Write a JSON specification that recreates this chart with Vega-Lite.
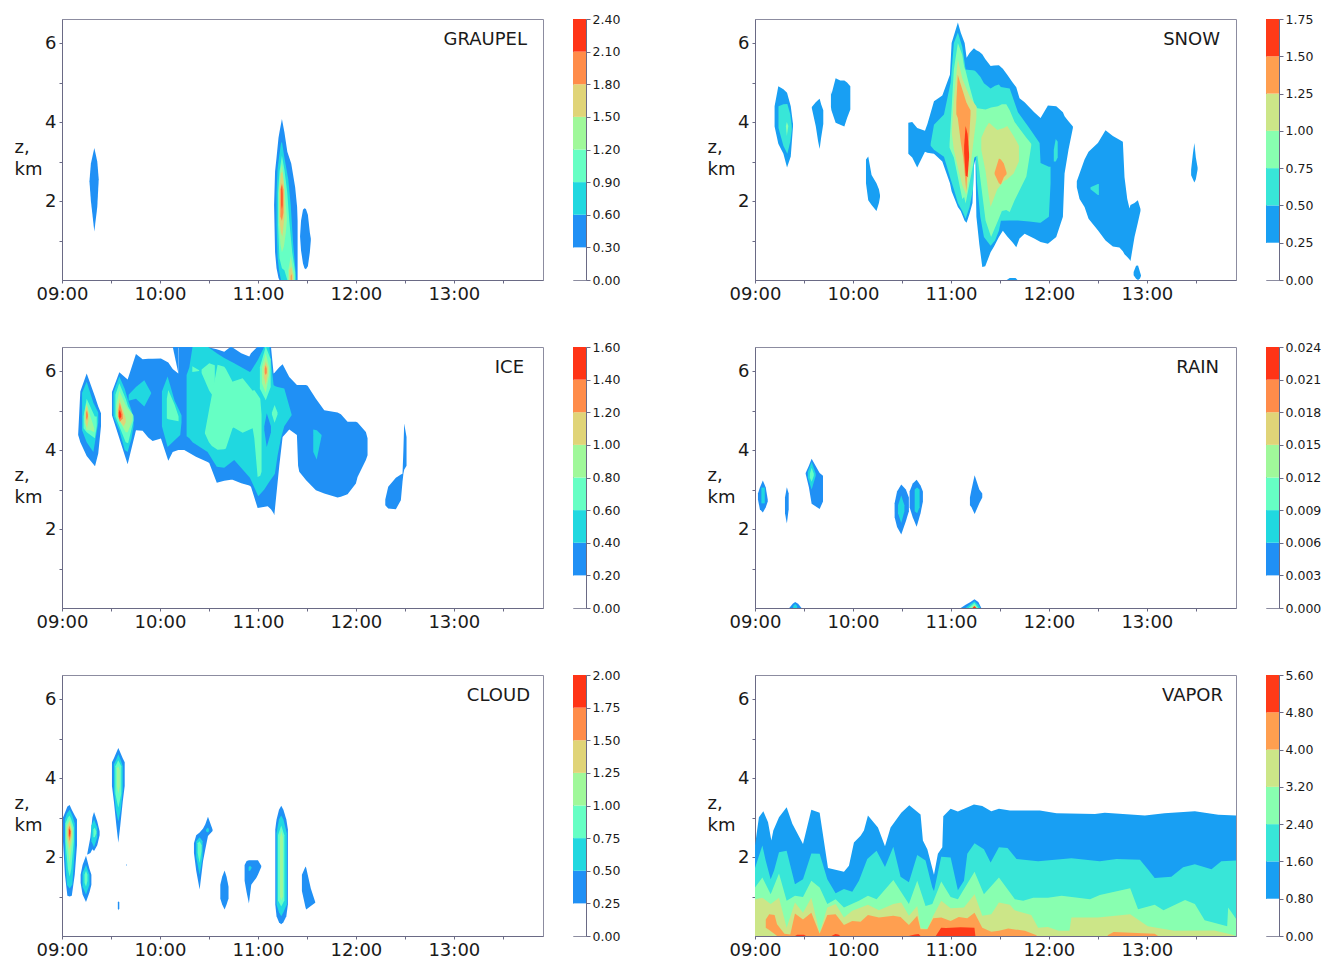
{"$schema":"https://vega.github.io/schema/vega-lite/v6.json","background":"white","padding":{"left":13,"top":12,"right":0,"bottom":0},"autosize":{"type":"pad"},"config":{"view":{"stroke":"#8c8ca0","strokeWidth":1},"font":"DejaVu Sans","axis":{"grid":false,"domainColor":"#6a6a85","tickColor":"#6a6a85","labelColor":"#1a1a1a","titleColor":"#1a1a1a","labelFont":"DejaVu Sans","titleFont":"DejaVu Sans"}},"spacing":{"row":67,"column":30},"bounds":"flush","columns":5,"resolve":{"scale":{"color":"independent"}},"concat":[
{"width":481,"height":261,"title":{"text":"GRAUPEL","anchor":"end","dx":-16,"offset":-30,"fontSize":18,"fontWeight":"normal","color":"#1a1a1a"},"data":{"values":[
{"b":1,"g":"a","h":9.28,"lo":2.5,"hi":2.5},{"b":1,"g":"a","h":9.295,"lo":2.0,"hi":2.95},{"b":1,"g":"a","h":9.33,"lo":1.23,"hi":3.34},{"b":1,"g":"a","h":9.36,"lo":1.85,"hi":3.0},{"b":1,"g":"a","h":9.375,"lo":2.55,"hi":2.55},
{"b":1,"g":"c","h":11.43,"lo":1.1,"hi":1.1},{"b":1,"g":"c","h":11.44,"lo":0.75,"hi":1.5},{"b":1,"g":"c","h":11.46,"lo":0.42,"hi":1.78},{"b":1,"g":"c","h":11.475,"lo":0.3,"hi":1.82},{"b":1,"g":"c","h":11.49,"lo":0.27,"hi":1.8},{"b":1,"g":"c","h":11.51,"lo":0.35,"hi":1.65},{"b":1,"g":"c","h":11.53,"lo":0.7,"hi":1.2},{"b":1,"g":"c","h":11.54,"lo":1.0,"hi":1.05},
{"b":1,"g":"m","h":11.165,"lo":1.9,"hi":1.9},{"b":1,"g":"m","h":11.175,"lo":0.7,"hi":2.75},{"b":1,"g":"m","h":11.19,"lo":0.3,"hi":3.1},{"b":1,"g":"m","h":11.21,"lo":0.05,"hi":3.6},{"b":1,"g":"m","h":11.22,"lo":0,"hi":3.75},{"b":1,"g":"m","h":11.245,"lo":0,"hi":4.08},{"b":1,"g":"m","h":11.27,"lo":0,"hi":3.75},{"b":1,"g":"m","h":11.3,"lo":0,"hi":3.25},{"b":1,"g":"m","h":11.34,"lo":0,"hi":2.95},{"b":1,"g":"m","h":11.38,"lo":0,"hi":2.35},{"b":1,"g":"m","h":11.4,"lo":0,"hi":1.85},{"b":1,"g":"m","h":11.405,"lo":0,"hi":1.5},
{"b":2,"g":"m","h":11.19,"lo":1.4,"hi":2.2},{"b":2,"g":"m","h":11.2,"lo":0.6,"hi":2.8},{"b":2,"g":"m","h":11.215,"lo":0.25,"hi":3.1},{"b":2,"g":"m","h":11.235,"lo":0,"hi":3.45},{"b":2,"g":"m","h":11.245,"lo":0,"hi":3.5},{"b":2,"g":"m","h":11.27,"lo":0,"hi":3.1},{"b":2,"g":"m","h":11.31,"lo":0,"hi":2.55},{"b":2,"g":"m","h":11.335,"lo":0,"hi":1.9},{"b":2,"g":"m","h":11.36,"lo":0,"hi":0.9},{"b":2,"g":"m","h":11.385,"lo":0,"hi":0.2},{"b":2,"g":"m","h":11.39,"lo":0,"hi":0.05},
{"b":3,"g":"m","h":11.205,"lo":1.4,"hi":2.2},{"b":3,"g":"m","h":11.22,"lo":0.55,"hi":2.75},{"b":3,"g":"m","h":11.245,"lo":0.3,"hi":3.15},{"b":3,"g":"m","h":11.27,"lo":0.25,"hi":2.8},{"b":3,"g":"m","h":11.3,"lo":0,"hi":2.2},{"b":3,"g":"m","h":11.32,"lo":0,"hi":1.5},{"b":3,"g":"m","h":11.35,"lo":0,"hi":0.7},{"b":3,"g":"m","h":11.38,"lo":0,"hi":0.2},
{"b":4,"g":"m","h":11.215,"lo":1.4,"hi":2.3},{"b":4,"g":"m","h":11.23,"lo":0.9,"hi":2.8},{"b":4,"g":"m","h":11.245,"lo":0.7,"hi":2.95},{"b":4,"g":"m","h":11.265,"lo":0.85,"hi":2.5},{"b":4,"g":"m","h":11.285,"lo":1.2,"hi":1.9},{"b":4,"g":"m","h":11.295,"lo":1.5,"hi":1.6},
{"b":4,"g":"n","h":11.31,"lo":0,"hi":0.25},{"b":4,"g":"n","h":11.335,"lo":0,"hi":0.6},{"b":4,"g":"n","h":11.37,"lo":0,"hi":0.1},
{"b":5,"g":"m","h":11.22,"lo":1.5,"hi":2.3},{"b":5,"g":"m","h":11.235,"lo":1.2,"hi":2.7},{"b":5,"g":"m","h":11.25,"lo":1.1,"hi":2.75},{"b":5,"g":"m","h":11.27,"lo":1.6,"hi":2.3},
{"b":5,"g":"n","h":11.32,"lo":0,"hi":0.25},{"b":5,"g":"n","h":11.34,"lo":0,"hi":0.35},{"b":5,"g":"n","h":11.36,"lo":0,"hi":0.1},
{"b":6,"g":"m","h":11.23,"lo":1.6,"hi":2.3},{"b":6,"g":"m","h":11.245,"lo":1.5,"hi":2.45},{"b":6,"g":"m","h":11.26,"lo":1.7,"hi":2.3},
{"b":6,"g":"n","h":11.335,"lo":0,"hi":0.1},{"b":6,"g":"n","h":11.345,"lo":0,"hi":0.15},
{"b":7,"g":"m","h":11.24,"lo":1.9,"hi":2.3},{"b":7,"g":"m","h":11.245,"lo":1.8,"hi":2.4},{"b":7,"g":"m","h":11.25,"lo":1.9,"hi":2.2}
]},"mark":{"type":"area","orient":"vertical","interpolate":"linear","clip":true},"encoding":{"x":{"field":"h","type":"quantitative","scale":{"domain":[9,13.91],"nice":false,"zero":false},"axis":{"title":null,"values":[9,9.5,10,10.5,11,11.5,12,12.5,13,13.5],"labelExpr":"datum.value%1==0?(datum.value<10?'0':'')+datum.value+':00':''","labelFontSize":18,"labelOverlap":false,"labelFlush":false,"tickSize":3,"labelPadding":2}},"y":{"field":"lo","type":"quantitative","scale":{"domain":[0,6.61],"nice":false},"axis":{"title":["z,","km"],"titleAngle":0,"titleFontSize":18,"titleFontWeight":"normal","titleAlign":"left","titleBaseline":"middle","titleX":-48,"titleY":128,"titleLineHeight":22,"values":[1,2,3,4,5,6],"labelExpr":"datum.value%2==0?datum.value:''","labelFontSize":18,"labelOverlap":false,"tickSize":3,"labelPadding":3}},"y2":{"field":"hi"},"detail":{"field":"g"},"color":{"field":"b","type":"ordinal","legend":null,"scale":{"domain":[1,2,3,4,5,6,7],"range":["#2090F5","#20D8E0","#66FFC4","#A0F89A","#E0D478","#FF8C4A","#FF3416"]}}}},
{"width":13,"height":261,"data":{"values":[{"b":0,"lo":0,"hi":0.3},{"b":1,"lo":0.3,"hi":0.6},{"b":2,"lo":0.6,"hi":0.9},{"b":3,"lo":0.9,"hi":1.2},{"b":4,"lo":1.2,"hi":1.5},{"b":5,"lo":1.5,"hi":1.8},{"b":6,"lo":1.8,"hi":2.1},{"b":7,"lo":2.1,"hi":2.4}]},"mark":"rect","encoding":{"y":{"field":"lo","type":"quantitative","scale":{"domain":[0,2.4],"nice":false},"axis":{"orient":"right","title":null,"values":[0,0.3,0.6,0.9,1.2,1.5,1.8,2.1,2.4],"format":".2f","labelFontSize":12.5,"tickSize":4,"labelPadding":2,"labelOverlap":false,"labelFlush":false}},"y2":{"field":"hi"},"color":{"field":"b","type":"ordinal","legend":null,"scale":{"domain":[0,1,2,3,4,5,6,7],"range":["#FFFFFF","#2090F5","#20D8E0","#66FFC4","#A0F89A","#E0D478","#FF8C4A","#FF3416"]}}}},
{"width":109,"height":261,"view":{"stroke":null},"data":{"values":[]},"mark":"point","encoding":{}},
{"width":481,"height":261,"title":{"text":"SNOW","anchor":"end","dx":-16,"offset":-30,"fontSize":18,"fontWeight":"normal","color":"#1a1a1a"},"data":{"values":[
{"b":1,"g":"a","h":9.2,"lo":3.89,"hi":4.4},{"b":1,"g":"a","h":9.238,"lo":3.45,"hi":4.91},{"b":1,"g":"a","h":9.29,"lo":3.2,"hi":4.83},{"b":1,"g":"a","h":9.327,"lo":2.85,"hi":4.74},{"b":1,"g":"a","h":9.365,"lo":3.13,"hi":4.4},{"b":1,"g":"a","h":9.388,"lo":3.89,"hi":3.95},
{"b":1,"g":"b","h":9.58,"lo":4.35,"hi":4.38},{"b":1,"g":"b","h":9.62,"lo":3.9,"hi":4.5},{"b":1,"g":"b","h":9.645,"lo":3.5,"hi":4.56},{"b":1,"g":"b","h":9.66,"lo":3.32,"hi":4.59},{"b":1,"g":"b","h":9.675,"lo":3.6,"hi":4.45},{"b":1,"g":"b","h":9.697,"lo":3.95,"hi":4.3},
{"b":1,"g":"c","h":9.775,"lo":4.38,"hi":4.8},{"b":1,"g":"c","h":9.78,"lo":4.3,"hi":4.7},{"b":1,"g":"c","h":9.823,"lo":3.98,"hi":5.11},{"b":1,"g":"c","h":9.87,"lo":3.93,"hi":5.05},{"b":1,"g":"c","h":9.912,"lo":3.89,"hi":5.05},{"b":1,"g":"c","h":9.94,"lo":4.1,"hi":5.0},{"b":1,"g":"c","h":9.973,"lo":4.32,"hi":4.91},
{"b":1,"g":"d","h":10.133,"lo":2.45,"hi":3.05},{"b":1,"g":"d","h":10.156,"lo":2.02,"hi":3.13},{"b":1,"g":"d","h":10.19,"lo":1.9,"hi":2.66},{"b":1,"g":"d","h":10.24,"lo":1.75,"hi":2.45},{"b":1,"g":"d","h":10.265,"lo":1.95,"hi":2.3},{"b":1,"g":"d","h":10.276,"lo":2.1,"hi":2.15},
{"b":1,"g":"m","h":10.565,"lo":3.2,"hi":3.98},{"b":1,"g":"m","h":10.605,"lo":3.1,"hi":4.0},{"b":1,"g":"m","h":10.656,"lo":2.85,"hi":3.85},{"b":1,"g":"m","h":10.735,"lo":3.25,"hi":3.78},{"b":1,"g":"m","h":10.76,"lo":3.22,"hi":3.95},{"b":1,"g":"m","h":10.827,"lo":3.2,"hi":4.53},{"b":1,"g":"m","h":10.912,"lo":3.0,"hi":4.67},{"b":1,"g":"m","h":10.99,"lo":2.45,"hi":5.2},{"b":1,"g":"m","h":11.007,"lo":2.25,"hi":6.0},{"b":1,"g":"m","h":11.071,"lo":1.85,"hi":6.52},{"b":1,"g":"m","h":11.1,"lo":1.75,"hi":6.27},{"b":1,"g":"m","h":11.14,"lo":1.5,"hi":6.0},{"b":1,"g":"m","h":11.16,"lo":1.45,"hi":5.63},{"b":1,"g":"m","h":11.19,"lo":1.68,"hi":5.75},{"b":1,"g":"m","h":11.22,"lo":1.95,"hi":5.83},{"b":1,"g":"m","h":11.235,"lo":2.9,"hi":5.87},{"b":1,"g":"m","h":11.25,"lo":3.05,"hi":5.84},{"b":1,"g":"m","h":11.26,"lo":1.6,"hi":5.82},{"b":1,"g":"m","h":11.29,"lo":0.9,"hi":5.78},{"b":1,"g":"m","h":11.32,"lo":0.33,"hi":5.72},{"b":1,"g":"m","h":11.35,"lo":0.35,"hi":5.6},{"b":1,"g":"m","h":11.405,"lo":0.7,"hi":5.42},{"b":1,"g":"m","h":11.44,"lo":0.85,"hi":5.43},{"b":1,"g":"m","h":11.49,"lo":1.09,"hi":5.44},{"b":1,"g":"m","h":11.53,"lo":1.25,"hi":5.35},{"b":1,"g":"m","h":11.575,"lo":1.1,"hi":5.2},{"b":1,"g":"m","h":11.63,"lo":0.95,"hi":5.0},{"b":1,"g":"m","h":11.667,"lo":0.83,"hi":4.88},{"b":1,"g":"m","h":11.7,"lo":1.05,"hi":4.6},{"b":1,"g":"m","h":11.752,"lo":1.17,"hi":4.5},{"b":1,"g":"m","h":11.85,"lo":1.05,"hi":4.25},{"b":1,"g":"m","h":11.915,"lo":0.96,"hi":4.1},{"b":1,"g":"m","h":11.99,"lo":0.92,"hi":4.42},{"b":1,"g":"m","h":12.075,"lo":1.09,"hi":4.4},{"b":1,"g":"m","h":12.143,"lo":1.6,"hi":4.25},{"b":1,"g":"m","h":12.16,"lo":2.7,"hi":4.15},{"b":1,"g":"m","h":12.2,"lo":3.3,"hi":4.02},{"b":1,"g":"m","h":12.245,"lo":3.85,"hi":3.89},
{"b":1,"g":"e","h":12.285,"lo":2.35,"hi":2.5},{"b":1,"g":"e","h":12.313,"lo":2.05,"hi":2.7},{"b":1,"g":"e","h":12.364,"lo":1.85,"hi":3.05},{"b":1,"g":"e","h":12.405,"lo":1.55,"hi":3.25},{"b":1,"g":"e","h":12.5,"lo":1.26,"hi":3.47},{"b":1,"g":"e","h":12.578,"lo":1.0,"hi":3.79},{"b":1,"g":"e","h":12.653,"lo":0.85,"hi":3.65},{"b":1,"g":"e","h":12.72,"lo":0.82,"hi":3.55},{"b":1,"g":"e","h":12.755,"lo":0.73,"hi":3.5},{"b":1,"g":"e","h":12.772,"lo":0.65,"hi":2.6},{"b":1,"g":"e","h":12.8,"lo":0.58,"hi":2.05},{"b":1,"g":"e","h":12.823,"lo":0.52,"hi":1.81},{"b":1,"g":"e","h":12.833,"lo":0.48,"hi":1.9},{"b":1,"g":"e","h":12.874,"lo":1.09,"hi":1.95},{"b":1,"g":"e","h":12.908,"lo":1.45,"hi":2.02},{"b":1,"g":"e","h":12.935,"lo":1.75,"hi":1.8},
{"b":1,"g":"f","h":12.865,"lo":0.12,"hi":0.2},{"b":1,"g":"f","h":12.89,"lo":0.03,"hi":0.36},{"b":1,"g":"f","h":12.91,"lo":0,"hi":0.37},{"b":1,"g":"f","h":12.93,"lo":0.04,"hi":0.2},{"b":1,"g":"f","h":12.94,"lo":0.1,"hi":0.12},
{"b":1,"g":"k","h":11.57,"lo":0,"hi":0},{"b":1,"g":"k","h":11.6,"lo":0,"hi":0.05},{"b":1,"g":"k","h":11.66,"lo":0,"hi":0.05},{"b":1,"g":"k","h":11.68,"lo":0,"hi":0},
{"b":1,"g":"r","h":13.452,"lo":2.65,"hi":2.8},{"b":1,"g":"r","h":13.47,"lo":2.55,"hi":3.2},{"b":1,"g":"r","h":13.485,"lo":2.47,"hi":3.47},{"b":1,"g":"r","h":13.5,"lo":2.55,"hi":3.1},{"b":1,"g":"r","h":13.518,"lo":2.8,"hi":2.85},
{"b":2,"g":"a","h":9.24,"lo":3.85,"hi":4.4},{"b":2,"g":"a","h":9.29,"lo":3.4,"hi":4.45},{"b":2,"g":"a","h":9.33,"lo":3.2,"hi":4.46},{"b":2,"g":"a","h":9.36,"lo":3.5,"hi":4.2},{"b":2,"g":"a","h":9.375,"lo":3.8,"hi":3.9},
{"b":2,"g":"m","h":10.793,"lo":3.4,"hi":3.45},{"b":2,"g":"m","h":10.827,"lo":3.3,"hi":3.93},{"b":2,"g":"m","h":10.929,"lo":3.12,"hi":4.19},{"b":2,"g":"m","h":10.997,"lo":2.55,"hi":5.0},{"b":2,"g":"m","h":11.03,"lo":2.3,"hi":6.0},{"b":2,"g":"m","h":11.071,"lo":1.95,"hi":6.27},{"b":2,"g":"m","h":11.116,"lo":1.75,"hi":5.9},{"b":2,"g":"m","h":11.15,"lo":1.55,"hi":5.33},{"b":2,"g":"m","h":11.19,"lo":1.85,"hi":5.32},{"b":2,"g":"m","h":11.225,"lo":2.3,"hi":5.31},{"b":2,"g":"m","h":11.245,"lo":3.7,"hi":5.3},{"b":2,"g":"m","h":11.265,"lo":2.5,"hi":5.25},{"b":2,"g":"m","h":11.3,"lo":1.6,"hi":5.15},{"b":2,"g":"m","h":11.337,"lo":1.09,"hi":4.98},{"b":2,"g":"m","h":11.405,"lo":0.87,"hi":4.85},{"b":2,"g":"m","h":11.45,"lo":1.0,"hi":4.92},{"b":2,"g":"m","h":11.49,"lo":1.25,"hi":4.95},{"b":2,"g":"m","h":11.51,"lo":1.5,"hi":4.89},{"b":2,"g":"m","h":11.6,"lo":1.51,"hi":4.85},{"b":2,"g":"m","h":11.684,"lo":1.51,"hi":4.25},{"b":2,"g":"m","h":11.8,"lo":1.48,"hi":3.85},{"b":2,"g":"m","h":11.905,"lo":1.45,"hi":3.47},{"b":2,"g":"m","h":11.915,"lo":1.45,"hi":2.96},{"b":2,"g":"m","h":12.0,"lo":1.6,"hi":2.87},{"b":2,"g":"m","h":12.017,"lo":2.45,"hi":2.87},
{"b":2,"g":"s","h":12.05,"lo":3.0,"hi":3.3},{"b":2,"g":"s","h":12.07,"lo":3.0,"hi":3.57},{"b":2,"g":"s","h":12.09,"lo":3.1,"hi":3.5},
{"b":2,"g":"t","h":12.425,"lo":2.3,"hi":2.35},{"b":2,"g":"t","h":12.5,"lo":2.15,"hi":2.43},{"b":2,"g":"t","h":12.51,"lo":2.15,"hi":2.43},
{"b":3,"g":"a","h":9.315,"lo":3.9,"hi":3.9},{"b":3,"g":"a","h":9.325,"lo":3.65,"hi":4.0},{"b":3,"g":"a","h":9.34,"lo":3.9,"hi":3.9},
{"b":3,"g":"m","h":10.986,"lo":3.35,"hi":3.45},{"b":3,"g":"m","h":11.03,"lo":3.1,"hi":5.33},{"b":3,"g":"m","h":11.071,"lo":2.6,"hi":6.0},{"b":3,"g":"m","h":11.116,"lo":2.05,"hi":5.7},{"b":3,"g":"m","h":11.135,"lo":2.1,"hi":5.4},{"b":3,"g":"m","h":11.15,"lo":1.94,"hi":5.3},{"b":3,"g":"m","h":11.19,"lo":2.45,"hi":4.9},{"b":3,"g":"m","h":11.24,"lo":3.1,"hi":4.45},{"b":3,"g":"m","h":11.27,"lo":3.15,"hi":4.35},{"b":3,"g":"m","h":11.354,"lo":1.5,"hi":4.32},{"b":3,"g":"m","h":11.41,"lo":1.09,"hi":4.37},{"b":3,"g":"m","h":11.48,"lo":1.5,"hi":4.4},{"b":3,"g":"m","h":11.52,"lo":1.75,"hi":4.45},{"b":3,"g":"m","h":11.565,"lo":1.77,"hi":4.45},{"b":3,"g":"m","h":11.6,"lo":1.72,"hi":4.3},{"b":3,"g":"m","h":11.65,"lo":2.02,"hi":4.0},{"b":3,"g":"m","h":11.77,"lo":2.62,"hi":3.6},{"b":3,"g":"m","h":11.82,"lo":3.4,"hi":3.45},
{"b":4,"g":"m","h":11.01,"lo":3.7,"hi":3.8},{"b":4,"g":"m","h":11.03,"lo":3.3,"hi":4.6},{"b":4,"g":"m","h":11.071,"lo":2.85,"hi":5.6},{"b":4,"g":"m","h":11.116,"lo":2.4,"hi":5.1},{"b":4,"g":"m","h":11.157,"lo":2.15,"hi":4.85},{"b":4,"g":"m","h":11.2,"lo":2.9,"hi":4.6},{"b":4,"g":"m","h":11.26,"lo":4.1,"hi":4.4},
{"b":4,"g":"n","h":11.31,"lo":3.3,"hi":3.6},{"b":4,"g":"n","h":11.354,"lo":2.75,"hi":3.85},{"b":4,"g":"n","h":11.388,"lo":2.1,"hi":3.98},{"b":4,"g":"n","h":11.405,"lo":1.85,"hi":3.95},{"b":4,"g":"n","h":11.473,"lo":2.3,"hi":3.8},{"b":4,"g":"n","h":11.54,"lo":2.5,"hi":3.85},{"b":4,"g":"n","h":11.575,"lo":2.55,"hi":3.9},{"b":4,"g":"n","h":11.64,"lo":2.7,"hi":3.65},{"b":4,"g":"n","h":11.694,"lo":3.0,"hi":3.4},
{"b":5,"g":"m","h":11.055,"lo":4.2,"hi":4.5},{"b":5,"g":"m","h":11.07,"lo":4.1,"hi":5.2},{"b":5,"g":"m","h":11.1,"lo":3.5,"hi":4.95},{"b":5,"g":"m","h":11.126,"lo":3.1,"hi":4.75},{"b":5,"g":"m","h":11.157,"lo":2.25,"hi":4.5},{"b":5,"g":"m","h":11.177,"lo":3.2,"hi":4.4},{"b":5,"g":"m","h":11.2,"lo":4.2,"hi":4.3},
{"b":5,"g":"n","h":11.446,"lo":2.68,"hi":2.72},{"b":5,"g":"n","h":11.49,"lo":2.45,"hi":3.08},{"b":5,"g":"n","h":11.51,"lo":2.42,"hi":3.05},{"b":5,"g":"n","h":11.54,"lo":2.6,"hi":2.95},{"b":5,"g":"n","h":11.568,"lo":2.68,"hi":2.72},
{"b":6,"g":"m","h":11.135,"lo":3.2,"hi":3.4},{"b":6,"g":"m","h":11.15,"lo":2.65,"hi":3.9},{"b":6,"g":"m","h":11.17,"lo":2.6,"hi":3.7},{"b":6,"g":"m","h":11.185,"lo":3.1,"hi":3.2}
]},"mark":{"type":"area","orient":"vertical","interpolate":"linear","clip":true},"encoding":{"x":{"field":"h","type":"quantitative","scale":{"domain":[9,13.91],"nice":false,"zero":false},"axis":{"title":null,"values":[9,9.5,10,10.5,11,11.5,12,12.5,13,13.5],"labelExpr":"datum.value%1==0?(datum.value<10?'0':'')+datum.value+':00':''","labelFontSize":18,"labelOverlap":false,"labelFlush":false,"tickSize":3,"labelPadding":2}},"y":{"field":"lo","type":"quantitative","scale":{"domain":[0,6.61],"nice":false},"axis":{"title":["z,","km"],"titleAngle":0,"titleFontSize":18,"titleFontWeight":"normal","titleAlign":"left","titleBaseline":"middle","titleX":-48,"titleY":128,"titleLineHeight":22,"values":[1,2,3,4,5,6],"labelExpr":"datum.value%2==0?datum.value:''","labelFontSize":18,"labelOverlap":false,"tickSize":3,"labelPadding":3}},"y2":{"field":"hi"},"detail":{"field":"g"},"color":{"field":"b","type":"ordinal","legend":null,"scale":{"domain":[1,2,3,4,5,6],"range":["#189FF3","#38E6D8","#88FFB0","#CCE688","#FF9F50","#FF3A18"]}}}},
{"width":13,"height":261,"data":{"values":[{"b":0,"lo":0,"hi":0.25},{"b":1,"lo":0.25,"hi":0.5},{"b":2,"lo":0.5,"hi":0.75},{"b":3,"lo":0.75,"hi":1.0},{"b":4,"lo":1.0,"hi":1.25},{"b":5,"lo":1.25,"hi":1.5},{"b":6,"lo":1.5,"hi":1.75}]},"mark":"rect","encoding":{"y":{"field":"lo","type":"quantitative","scale":{"domain":[0,1.75],"nice":false},"axis":{"orient":"right","title":null,"values":[0,0.25,0.5,0.75,1,1.25,1.5,1.75],"format":".2f","labelFontSize":12.5,"tickSize":4,"labelPadding":2,"labelOverlap":false,"labelFlush":false}},"y2":{"field":"hi"},"color":{"field":"b","type":"ordinal","legend":null,"scale":{"domain":[0,1,2,3,4,5,6],"range":["#FFFFFF","#189FF3","#38E6D8","#88FFB0","#CCE688","#FF9F50","#FF3A18"]}}}},
{"width":481,"height":261,"title":{"text":"ICE","anchor":"end","dx":-19,"offset":-30,"fontSize":18,"fontWeight":"normal","color":"#1a1a1a"},"data":{"values":[
{"b":1,"g":"a","h":9.165,"lo":4.38,"hi":4.4},{"b":1,"g":"a","h":9.187,"lo":4.2,"hi":5.48},{"b":1,"g":"a","h":9.252,"lo":3.85,"hi":5.94},{"b":1,"g":"a","h":9.337,"lo":3.59,"hi":5.35},{"b":1,"g":"a","h":9.37,"lo":3.91,"hi":5.1},{"b":1,"g":"a","h":9.398,"lo":4.6,"hi":4.93},
{"b":1,"g":"m","h":9.51,"lo":4.88,"hi":5.47},{"b":1,"g":"m","h":9.585,"lo":4.3,"hi":5.97},{"b":1,"g":"m","h":9.67,"lo":3.64,"hi":5.79},{"b":1,"g":"m","h":9.755,"lo":4.5,"hi":6.43},{"b":1,"g":"m","h":9.823,"lo":4.49,"hi":6.3},{"b":1,"g":"m","h":9.88,"lo":4.32,"hi":6.31},{"b":1,"g":"m","h":9.925,"lo":4.23,"hi":6.31},{"b":1,"g":"m","h":10.01,"lo":4.29,"hi":6.32},{"b":1,"g":"m","h":10.085,"lo":3.73,"hi":6.22},{"b":1,"g":"m","h":10.13,"lo":3.95,"hi":6.05},{"b":1,"g":"m","h":10.187,"lo":4.0,"hi":5.94},{"b":1,"g":"m","h":10.19,"lo":4.0,"hi":6.62},{"b":1,"g":"m","h":10.248,"lo":4.0,"hi":6.62},{"b":1,"g":"m","h":10.367,"lo":3.83,"hi":6.62},{"b":1,"g":"m","h":10.486,"lo":3.7,"hi":6.62},{"b":1,"g":"m","h":10.503,"lo":3.67,"hi":6.6},{"b":1,"g":"m","h":10.58,"lo":3.17,"hi":6.55},{"b":1,"g":"m","h":10.656,"lo":3.22,"hi":6.49},{"b":1,"g":"m","h":10.724,"lo":3.25,"hi":6.62},{"b":1,"g":"m","h":10.741,"lo":3.25,"hi":6.6},{"b":1,"g":"m","h":10.83,"lo":3.16,"hi":6.45},{"b":1,"g":"m","h":10.912,"lo":3.1,"hi":6.37},{"b":1,"g":"m","h":10.929,"lo":3.07,"hi":6.45},{"b":1,"g":"m","h":10.997,"lo":2.53,"hi":6.62},{"b":1,"g":"m","h":11.1,"lo":2.58,"hi":6.62},{"b":1,"g":"m","h":11.133,"lo":2.5,"hi":6.62},{"b":1,"g":"m","h":11.16,"lo":2.4,"hi":5.94},{"b":1,"g":"m","h":11.167,"lo":2.35,"hi":5.95},{"b":1,"g":"m","h":11.218,"lo":3.6,"hi":6.1},{"b":1,"g":"m","h":11.252,"lo":4.33,"hi":6.17},{"b":1,"g":"m","h":11.32,"lo":4.52,"hi":5.85},{"b":1,"g":"m","h":11.398,"lo":4.38,"hi":5.65},{"b":1,"g":"m","h":11.41,"lo":3.6,"hi":5.65},{"b":1,"g":"m","h":11.422,"lo":3.45,"hi":5.65},{"b":1,"g":"m","h":11.49,"lo":3.24,"hi":5.65},{"b":1,"g":"m","h":11.507,"lo":3.2,"hi":5.63},{"b":1,"g":"m","h":11.592,"lo":2.98,"hi":5.3},{"b":1,"g":"m","h":11.677,"lo":2.9,"hi":5.01},{"b":1,"g":"m","h":11.813,"lo":2.8,"hi":4.95},{"b":1,"g":"m","h":11.847,"lo":2.82,"hi":4.91},{"b":1,"g":"m","h":11.915,"lo":2.88,"hi":4.72},{"b":1,"g":"m","h":12.0,"lo":3.15,"hi":4.72},{"b":1,"g":"m","h":12.017,"lo":3.32,"hi":4.7},{"b":1,"g":"m","h":12.102,"lo":3.75,"hi":4.46},{"b":1,"g":"m","h":12.119,"lo":3.87,"hi":4.3},
{"b":1,"g":"w","h":10.13,"lo":6.62,"hi":6.62},{"b":1,"g":"w","h":10.187,"lo":5.95,"hi":6.62},
{"b":1,"g":"r","h":12.3,"lo":2.6,"hi":2.75},{"b":1,"g":"r","h":12.33,"lo":2.52,"hi":3.07},{"b":1,"g":"r","h":12.408,"lo":2.5,"hi":3.3},{"b":1,"g":"r","h":12.459,"lo":2.73,"hi":3.38},{"b":1,"g":"r","h":12.476,"lo":3.2,"hi":3.4},{"b":1,"g":"r","h":12.485,"lo":3.4,"hi":4.0},{"b":1,"g":"r","h":12.493,"lo":3.5,"hi":4.67},{"b":1,"g":"r","h":12.517,"lo":3.6,"hi":4.33},
{"b":2,"g":"a","h":9.205,"lo":4.5,"hi":5.45},{"b":2,"g":"a","h":9.252,"lo":4.2,"hi":5.73},{"b":2,"g":"a","h":9.32,"lo":3.95,"hi":5.2},{"b":2,"g":"a","h":9.37,"lo":4.7,"hi":4.95},
{"b":2,"g":"b","h":9.525,"lo":4.85,"hi":5.45},{"b":2,"g":"b","h":9.585,"lo":4.5,"hi":5.86},{"b":2,"g":"b","h":9.64,"lo":4.0,"hi":5.55},{"b":2,"g":"b","h":9.67,"lo":3.95,"hi":5.3},{"b":2,"g":"b","h":9.71,"lo":4.3,"hi":5.0},{"b":2,"g":"b","h":9.73,"lo":4.6,"hi":4.8},
{"b":2,"g":"d","h":9.68,"lo":5.25,"hi":5.4},{"b":2,"g":"d","h":9.755,"lo":5.3,"hi":5.6},{"b":2,"g":"d","h":9.84,"lo":5.1,"hi":5.77},{"b":2,"g":"d","h":9.91,"lo":5.43,"hi":5.45},
{"b":2,"g":"c","h":10.02,"lo":4.6,"hi":5.48},{"b":2,"g":"c","h":10.078,"lo":4.08,"hi":5.86},{"b":2,"g":"c","h":10.15,"lo":4.25,"hi":5.25},{"b":2,"g":"c","h":10.207,"lo":4.38,"hi":4.95},{"b":2,"g":"c","h":10.22,"lo":4.7,"hi":4.88},
{"b":2,"g":"m","h":10.272,"lo":4.35,"hi":5.9},{"b":2,"g":"m","h":10.3,"lo":4.3,"hi":6.1},{"b":2,"g":"m","h":10.333,"lo":4.2,"hi":6.62},{"b":2,"g":"m","h":10.486,"lo":3.95,"hi":6.62},{"b":2,"g":"m","h":10.58,"lo":3.58,"hi":6.45},{"b":2,"g":"m","h":10.656,"lo":3.55,"hi":6.33},{"b":2,"g":"m","h":10.758,"lo":3.75,"hi":6.2},{"b":2,"g":"m","h":10.918,"lo":3.3,"hi":5.98},{"b":2,"g":"m","h":10.929,"lo":3.24,"hi":6.0},{"b":2,"g":"m","h":11.003,"lo":2.83,"hi":6.3},{"b":2,"g":"m","h":11.065,"lo":3.0,"hi":6.62},{"b":2,"g":"m","h":11.116,"lo":3.2,"hi":6.62},{"b":2,"g":"m","h":11.16,"lo":3.35,"hi":5.65},{"b":2,"g":"m","h":11.173,"lo":3.4,"hi":5.62},{"b":2,"g":"m","h":11.2,"lo":3.85,"hi":5.6},{"b":2,"g":"m","h":11.235,"lo":4.3,"hi":5.58},{"b":2,"g":"m","h":11.269,"lo":4.6,"hi":5.56},{"b":2,"g":"m","h":11.344,"lo":4.88,"hi":4.9},
{"b":2,"g":"p","h":11.565,"lo":3.95,"hi":4.52},{"b":2,"g":"p","h":11.6,"lo":3.76,"hi":4.5},{"b":2,"g":"p","h":11.65,"lo":4.36,"hi":4.38},
{"b":1,"g":"h","h":11.065,"lo":4.5,"hi":4.6},{"b":1,"g":"h","h":11.09,"lo":4.08,"hi":4.93},{"b":1,"g":"h","h":11.133,"lo":4.45,"hi":4.6},
{"b":3,"g":"a","h":9.22,"lo":4.55,"hi":4.85},{"b":3,"g":"a","h":9.252,"lo":4.45,"hi":5.3},{"b":3,"g":"a","h":9.335,"lo":4.3,"hi":4.85},{"b":3,"g":"a","h":9.355,"lo":4.6,"hi":4.85},
{"b":3,"g":"b","h":9.545,"lo":4.85,"hi":5.4},{"b":3,"g":"b","h":9.585,"lo":4.6,"hi":5.69},{"b":3,"g":"b","h":9.65,"lo":4.2,"hi":5.3},{"b":3,"g":"b","h":9.675,"lo":4.17,"hi":5.1},{"b":3,"g":"b","h":9.73,"lo":4.75,"hi":4.87},
{"b":3,"g":"c","h":10.07,"lo":4.8,"hi":5.3},{"b":3,"g":"c","h":10.085,"lo":4.78,"hi":5.52},{"b":3,"g":"c","h":10.15,"lo":4.75,"hi":5.15},{"b":3,"g":"c","h":10.19,"lo":4.73,"hi":4.85},
{"b":3,"g":"t","h":10.425,"lo":5.95,"hi":6.04},{"b":3,"g":"t","h":10.503,"lo":5.5,"hi":6.2},{"b":3,"g":"t","h":10.56,"lo":5.3,"hi":6.15},
{"b":3,"g":"m","h":10.459,"lo":4.42,"hi":4.45},{"b":3,"g":"m","h":10.5,"lo":4.2,"hi":5.0},{"b":3,"g":"m","h":10.53,"lo":4.1,"hi":5.4},{"b":3,"g":"m","h":10.588,"lo":4.01,"hi":6.16},{"b":3,"g":"m","h":10.656,"lo":4.02,"hi":6.11},{"b":3,"g":"m","h":10.673,"lo":4.04,"hi":6.05},{"b":3,"g":"m","h":10.741,"lo":4.55,"hi":5.73},{"b":3,"g":"m","h":10.752,"lo":4.57,"hi":5.74},{"b":3,"g":"m","h":10.844,"lo":4.44,"hi":5.82},{"b":3,"g":"m","h":10.946,"lo":4.55,"hi":5.5},{"b":3,"g":"m","h":10.963,"lo":4.3,"hi":5.52},{"b":3,"g":"m","h":10.997,"lo":3.32,"hi":5.4},{"b":3,"g":"m","h":11.024,"lo":3.35,"hi":5.3},{"b":3,"g":"m","h":11.037,"lo":3.45,"hi":4.9},
{"b":3,"g":"q","h":10.33,"lo":5.98,"hi":6.12},{"b":3,"g":"q","h":10.4,"lo":6.0,"hi":6.02},
{"b":3,"g":"s","h":11.02,"lo":5.55,"hi":6.1},{"b":3,"g":"s","h":11.08,"lo":5.26,"hi":6.62},{"b":3,"g":"s","h":11.13,"lo":5.6,"hi":6.3},
{"b":3,"g":"u","h":11.143,"lo":4.9,"hi":4.95},{"b":3,"g":"u","h":11.17,"lo":4.69,"hi":5.14},{"b":3,"g":"u","h":11.2,"lo":4.9,"hi":4.95},
{"b":4,"g":"a","h":9.23,"lo":4.7,"hi":4.95},{"b":4,"g":"a","h":9.25,"lo":4.5,"hi":5.2},{"b":4,"g":"a","h":9.29,"lo":4.5,"hi":4.85},{"b":4,"g":"a","h":9.33,"lo":4.45,"hi":4.55},
{"b":4,"g":"b","h":9.555,"lo":4.9,"hi":5.15},{"b":4,"g":"b","h":9.585,"lo":4.75,"hi":5.5},{"b":4,"g":"b","h":9.65,"lo":4.45,"hi":5.15},{"b":4,"g":"b","h":9.67,"lo":4.45,"hi":5.05},{"b":4,"g":"b","h":9.72,"lo":4.75,"hi":4.9},
{"b":4,"g":"s","h":11.04,"lo":5.7,"hi":6.1},{"b":4,"g":"s","h":11.08,"lo":5.45,"hi":6.45},{"b":4,"g":"s","h":11.115,"lo":5.9,"hi":6.1},
{"b":5,"g":"a","h":9.24,"lo":4.7,"hi":5.0},{"b":5,"g":"a","h":9.255,"lo":4.55,"hi":5.15},{"b":5,"g":"a","h":9.27,"lo":4.75,"hi":4.9},
{"b":5,"g":"b","h":9.57,"lo":4.85,"hi":5.05},{"b":5,"g":"b","h":9.585,"lo":4.75,"hi":5.3},{"b":5,"g":"b","h":9.63,"lo":4.6,"hi":4.95},{"b":5,"g":"b","h":9.65,"lo":4.7,"hi":4.8},
{"b":5,"g":"s","h":11.06,"lo":5.85,"hi":6.1},{"b":5,"g":"s","h":11.08,"lo":5.65,"hi":6.25},{"b":5,"g":"s","h":11.1,"lo":5.9,"hi":6.1},
{"b":6,"g":"a","h":9.245,"lo":4.82,"hi":4.95},{"b":6,"g":"a","h":9.255,"lo":4.75,"hi":5.0},{"b":6,"g":"a","h":9.265,"lo":4.85,"hi":4.9},
{"b":6,"g":"b","h":9.575,"lo":4.85,"hi":5.0},{"b":6,"g":"b","h":9.59,"lo":4.72,"hi":5.2},{"b":6,"g":"b","h":9.62,"lo":4.8,"hi":4.9},
{"b":6,"g":"s","h":11.07,"lo":5.95,"hi":6.05},{"b":6,"g":"s","h":11.08,"lo":5.9,"hi":6.15},{"b":6,"g":"s","h":11.09,"lo":5.95,"hi":6.05},
{"b":7,"g":"b","h":9.58,"lo":4.85,"hi":4.95},{"b":7,"g":"b","h":9.59,"lo":4.78,"hi":5.02},{"b":7,"g":"b","h":9.605,"lo":4.85,"hi":4.9}
]},"mark":{"type":"area","orient":"vertical","interpolate":"linear","clip":true},"encoding":{"x":{"field":"h","type":"quantitative","scale":{"domain":[9,13.91],"nice":false,"zero":false},"axis":{"title":null,"values":[9,9.5,10,10.5,11,11.5,12,12.5,13,13.5],"labelExpr":"datum.value%1==0?(datum.value<10?'0':'')+datum.value+':00':''","labelFontSize":18,"labelOverlap":false,"labelFlush":false,"tickSize":3,"labelPadding":2}},"y":{"field":"lo","type":"quantitative","scale":{"domain":[0,6.61],"nice":false},"axis":{"title":["z,","km"],"titleAngle":0,"titleFontSize":18,"titleFontWeight":"normal","titleAlign":"left","titleBaseline":"middle","titleX":-48,"titleY":128,"titleLineHeight":22,"values":[1,2,3,4,5,6],"labelExpr":"datum.value%2==0?datum.value:''","labelFontSize":18,"labelOverlap":false,"tickSize":3,"labelPadding":3}},"y2":{"field":"hi"},"detail":{"field":"g"},"color":{"field":"b","type":"ordinal","legend":null,"scale":{"domain":[1,2,3,4,5,6,7],"range":["#2090F5","#20D8E0","#66FFC4","#A0F89A","#E0D478","#FF8C4A","#FF3416"]}}}},
{"width":13,"height":261,"data":{"values":[{"b":0,"lo":0,"hi":0.2},{"b":1,"lo":0.2,"hi":0.4},{"b":2,"lo":0.4,"hi":0.6},{"b":3,"lo":0.6,"hi":0.8},{"b":4,"lo":0.8,"hi":1.0},{"b":5,"lo":1.0,"hi":1.2},{"b":6,"lo":1.2,"hi":1.4},{"b":7,"lo":1.4,"hi":1.6}]},"mark":"rect","encoding":{"y":{"field":"lo","type":"quantitative","scale":{"domain":[0,1.6],"nice":false},"axis":{"orient":"right","title":null,"values":[0,0.2,0.4,0.6,0.8,1,1.2,1.4,1.6],"format":".2f","labelFontSize":12.5,"tickSize":4,"labelPadding":2,"labelOverlap":false,"labelFlush":false}},"y2":{"field":"hi"},"color":{"field":"b","type":"ordinal","legend":null,"scale":{"domain":[0,1,2,3,4,5,6,7],"range":["#FFFFFF","#2090F5","#20D8E0","#66FFC4","#A0F89A","#E0D478","#FF8C4A","#FF3416"]}}}},
{"width":109,"height":261,"view":{"stroke":null},"data":{"values":[]},"mark":"point","encoding":{}},
{"width":481,"height":261,"title":{"text":"RAIN","anchor":"end","dx":-17,"offset":-30,"fontSize":18,"fontWeight":"normal","color":"#1a1a1a"},"data":{"values":[
{"b":1,"g":"a","h":9.03,"lo":2.75,"hi":2.9},{"b":1,"g":"a","h":9.05,"lo":2.5,"hi":3.05},{"b":1,"g":"a","h":9.08,"lo":2.42,"hi":3.23},{"b":1,"g":"a","h":9.11,"lo":2.55,"hi":3.05},{"b":1,"g":"a","h":9.13,"lo":2.7,"hi":2.75},
{"b":1,"g":"b","h":9.306,"lo":2.4,"hi":2.8},{"b":1,"g":"b","h":9.325,"lo":2.14,"hi":3.06},{"b":1,"g":"b","h":9.344,"lo":2.5,"hi":2.9},
{"b":1,"g":"c","h":9.517,"lo":3.4,"hi":3.42},{"b":1,"g":"c","h":9.55,"lo":3.06,"hi":3.6},{"b":1,"g":"c","h":9.578,"lo":2.64,"hi":3.78},{"b":1,"g":"c","h":9.66,"lo":2.51,"hi":3.42},{"b":1,"g":"c","h":9.694,"lo":2.7,"hi":3.35},
{"b":1,"g":"d","h":10.425,"lo":2.3,"hi":2.65},{"b":1,"g":"d","h":10.45,"lo":2.05,"hi":2.95},{"b":1,"g":"d","h":10.493,"lo":1.86,"hi":3.13},{"b":1,"g":"d","h":10.54,"lo":2.2,"hi":3.0},{"b":1,"g":"d","h":10.571,"lo":2.45,"hi":2.8},
{"b":1,"g":"e","h":10.578,"lo":2.55,"hi":2.95},{"b":1,"g":"e","h":10.61,"lo":2.3,"hi":3.15},{"b":1,"g":"e","h":10.65,"lo":2.06,"hi":3.25},{"b":1,"g":"e","h":10.69,"lo":2.4,"hi":3.1},{"b":1,"g":"e","h":10.714,"lo":2.7,"hi":2.95},
{"b":1,"g":"f","h":11.194,"lo":2.6,"hi":2.8},{"b":1,"g":"f","h":11.21,"lo":2.55,"hi":3.0},{"b":1,"g":"f","h":11.242,"lo":2.38,"hi":3.36},{"b":1,"g":"f","h":11.29,"lo":2.65,"hi":3.0},{"b":1,"g":"f","h":11.32,"lo":2.8,"hi":2.9},
{"b":1,"g":"k","h":9.35,"lo":0,"hi":0},{"b":1,"g":"k","h":9.385,"lo":0,"hi":0.11},{"b":1,"g":"k","h":9.41,"lo":0,"hi":0.15},{"b":1,"g":"k","h":9.44,"lo":0,"hi":0.11},{"b":1,"g":"k","h":9.475,"lo":0,"hi":0},
{"b":1,"g":"l","h":11.1,"lo":0,"hi":0},{"b":1,"g":"l","h":11.15,"lo":0,"hi":0.08},{"b":1,"g":"l","h":11.2,"lo":0,"hi":0.15},{"b":1,"g":"l","h":11.24,"lo":0,"hi":0.22},{"b":1,"g":"l","h":11.28,"lo":0,"hi":0.15},{"b":1,"g":"l","h":11.31,"lo":0,"hi":0},
{"b":2,"g":"a","h":9.065,"lo":2.65,"hi":3.05},{"b":2,"g":"a","h":9.1,"lo":2.65,"hi":3.05},
{"b":2,"g":"c","h":9.54,"lo":3.3,"hi":3.45},{"b":2,"g":"c","h":9.578,"lo":3.0,"hi":3.7},{"b":2,"g":"c","h":9.62,"lo":3.35,"hi":3.4},
{"b":2,"g":"d","h":10.46,"lo":2.4,"hi":2.6},{"b":2,"g":"d","h":10.493,"lo":2.15,"hi":2.85},{"b":2,"g":"d","h":10.525,"lo":2.45,"hi":2.6},
{"b":2,"g":"e","h":10.63,"lo":2.45,"hi":3.0},{"b":2,"g":"e","h":10.655,"lo":2.4,"hi":3.05},{"b":2,"g":"e","h":10.68,"lo":2.55,"hi":3.0},
{"b":2,"g":"k","h":9.39,"lo":0,"hi":0.05},{"b":2,"g":"k","h":9.41,"lo":0,"hi":0.1},{"b":2,"g":"k","h":9.43,"lo":0,"hi":0.05},
{"b":2,"g":"l","h":11.15,"lo":0,"hi":0},{"b":2,"g":"l","h":11.2,"lo":0,"hi":0.1},{"b":2,"g":"l","h":11.24,"lo":0,"hi":0.17},{"b":2,"g":"l","h":11.28,"lo":0,"hi":0.08},{"b":2,"g":"l","h":11.3,"lo":0,"hi":0},
{"b":3,"g":"c","h":9.56,"lo":3.3,"hi":3.4},{"b":3,"g":"c","h":9.578,"lo":3.2,"hi":3.55},{"b":3,"g":"c","h":9.6,"lo":3.35,"hi":3.4},
{"b":3,"g":"l","h":11.18,"lo":0,"hi":0},{"b":3,"g":"l","h":11.24,"lo":0,"hi":0.13},{"b":3,"g":"l","h":11.28,"lo":0,"hi":0},
{"b":4,"g":"l","h":11.2,"lo":0,"hi":0},{"b":4,"g":"l","h":11.24,"lo":0,"hi":0.09},{"b":4,"g":"l","h":11.27,"lo":0,"hi":0},
{"b":7,"g":"l","h":11.22,"lo":0,"hi":0},{"b":7,"g":"l","h":11.24,"lo":0,"hi":0.05},{"b":7,"g":"l","h":11.26,"lo":0,"hi":0}
]},"mark":{"type":"area","orient":"vertical","interpolate":"linear","clip":true},"encoding":{"x":{"field":"h","type":"quantitative","scale":{"domain":[9,13.91],"nice":false,"zero":false},"axis":{"title":null,"values":[9,9.5,10,10.5,11,11.5,12,12.5,13,13.5],"labelExpr":"datum.value%1==0?(datum.value<10?'0':'')+datum.value+':00':''","labelFontSize":18,"labelOverlap":false,"labelFlush":false,"tickSize":3,"labelPadding":2}},"y":{"field":"lo","type":"quantitative","scale":{"domain":[0,6.61],"nice":false},"axis":{"title":["z,","km"],"titleAngle":0,"titleFontSize":18,"titleFontWeight":"normal","titleAlign":"left","titleBaseline":"middle","titleX":-48,"titleY":128,"titleLineHeight":22,"values":[1,2,3,4,5,6],"labelExpr":"datum.value%2==0?datum.value:''","labelFontSize":18,"labelOverlap":false,"tickSize":3,"labelPadding":3}},"y2":{"field":"hi"},"detail":{"field":"g"},"color":{"field":"b","type":"ordinal","legend":null,"scale":{"domain":[1,2,3,4,5,6,7],"range":["#2090F5","#20D8E0","#66FFC4","#A0F89A","#E0D478","#FF8C4A","#FF3416"]}}}},
{"width":13,"height":261,"data":{"values":[{"b":0,"lo":0,"hi":0.003},{"b":1,"lo":0.003,"hi":0.006},{"b":2,"lo":0.006,"hi":0.009},{"b":3,"lo":0.009,"hi":0.012},{"b":4,"lo":0.012,"hi":0.015},{"b":5,"lo":0.015,"hi":0.018},{"b":6,"lo":0.018,"hi":0.021},{"b":7,"lo":0.021,"hi":0.024}]},"mark":"rect","encoding":{"y":{"field":"lo","type":"quantitative","scale":{"domain":[0,0.024],"nice":false},"axis":{"orient":"right","title":null,"values":[0,0.003,0.006,0.009,0.012,0.015,0.018,0.021,0.024],"format":".3f","labelFontSize":12.5,"tickSize":4,"labelPadding":2,"labelOverlap":false,"labelFlush":false}},"y2":{"field":"hi"},"color":{"field":"b","type":"ordinal","legend":null,"scale":{"domain":[0,1,2,3,4,5,6,7],"range":["#FFFFFF","#2090F5","#20D8E0","#66FFC4","#A0F89A","#E0D478","#FF8C4A","#FF3416"]}}}},
{"width":481,"height":261,"title":{"text":"CLOUD","anchor":"end","dx":-13,"offset":-30,"fontSize":18,"fontWeight":"normal","color":"#1a1a1a"},"data":{"values":[
{"b":1,"g":"a","h":9.01,"lo":2.4,"hi":3.0},{"b":1,"g":"a","h":9.03,"lo":1.55,"hi":3.12},{"b":1,"g":"a","h":9.055,"lo":1.02,"hi":3.28},{"b":1,"g":"a","h":9.078,"lo":1.0,"hi":3.32},{"b":1,"g":"a","h":9.1,"lo":1.02,"hi":3.2},{"b":1,"g":"a","h":9.13,"lo":1.55,"hi":3.05},{"b":1,"g":"a","h":9.153,"lo":2.3,"hi":2.95},
{"b":1,"g":"b","h":9.19,"lo":1.35,"hi":1.55},{"b":1,"g":"b","h":9.21,"lo":1.05,"hi":1.8},{"b":1,"g":"b","h":9.245,"lo":0.86,"hi":2.03},{"b":1,"g":"b","h":9.28,"lo":1.1,"hi":1.7},{"b":1,"g":"b","h":9.3,"lo":1.3,"hi":1.55},
{"b":1,"g":"c","h":9.258,"lo":2.06,"hi":2.08},{"b":1,"g":"c","h":9.29,"lo":2.1,"hi":2.5},{"b":1,"g":"c","h":9.31,"lo":2.2,"hi":3.0},{"b":1,"g":"c","h":9.327,"lo":2.15,"hi":3.14},{"b":1,"g":"c","h":9.36,"lo":2.3,"hi":2.9},{"b":1,"g":"c","h":9.384,"lo":2.55,"hi":2.65},
{"b":1,"g":"d","h":9.51,"lo":3.8,"hi":4.4},{"b":1,"g":"d","h":9.53,"lo":3.4,"hi":4.5},{"b":1,"g":"d","h":9.555,"lo":2.8,"hi":4.65},{"b":1,"g":"d","h":9.575,"lo":2.36,"hi":4.76},{"b":1,"g":"d","h":9.595,"lo":2.8,"hi":4.65},{"b":1,"g":"d","h":9.62,"lo":3.4,"hi":4.5},{"b":1,"g":"d","h":9.64,"lo":3.8,"hi":4.4},
{"b":1,"g":"e","h":9.57,"lo":0.7,"hi":0.85},{"b":1,"g":"e","h":9.578,"lo":0.65,"hi":0.88},{"b":1,"g":"e","h":9.585,"lo":0.7,"hi":0.85},
{"b":1,"g":"x","h":9.655,"lo":1.78,"hi":1.82},{"b":1,"g":"x","h":9.66,"lo":1.78,"hi":1.82},
{"b":1,"g":"f","h":10.347,"lo":2.1,"hi":2.35},{"b":1,"g":"f","h":10.37,"lo":1.65,"hi":2.55},{"b":1,"g":"f","h":10.405,"lo":1.18,"hi":2.62},{"b":1,"g":"f","h":10.44,"lo":1.9,"hi":2.72},{"b":1,"g":"f","h":10.463,"lo":2.2,"hi":2.83},{"b":1,"g":"f","h":10.49,"lo":2.53,"hi":3.02},{"b":1,"g":"f","h":10.537,"lo":2.66,"hi":2.7},
{"b":1,"g":"k","h":10.616,"lo":0.95,"hi":1.3},{"b":1,"g":"k","h":10.635,"lo":0.8,"hi":1.5},{"b":1,"g":"k","h":10.66,"lo":0.67,"hi":1.66},{"b":1,"g":"k","h":10.68,"lo":0.8,"hi":1.5},{"b":1,"g":"k","h":10.7,"lo":0.95,"hi":1.25},
{"b":1,"g":"n","h":10.864,"lo":1.4,"hi":1.8},{"b":1,"g":"n","h":10.885,"lo":1.1,"hi":1.9},{"b":1,"g":"n","h":10.908,"lo":0.82,"hi":1.92},{"b":1,"g":"n","h":10.932,"lo":1.3,"hi":1.92},{"b":1,"g":"n","h":10.983,"lo":1.47,"hi":1.92},{"b":1,"g":"n","h":11.0,"lo":1.55,"hi":1.92},{"b":1,"g":"n","h":11.034,"lo":1.75,"hi":1.78},
{"b":1,"g":"i","h":11.177,"lo":0.8,"hi":2.7},{"b":1,"g":"i","h":11.19,"lo":0.5,"hi":2.95},{"b":1,"g":"i","h":11.215,"lo":0.35,"hi":3.2},{"b":1,"g":"i","h":11.238,"lo":0.3,"hi":3.3},{"b":1,"g":"i","h":11.26,"lo":0.35,"hi":3.2},{"b":1,"g":"i","h":11.29,"lo":0.5,"hi":2.95},{"b":1,"g":"i","h":11.306,"lo":0.8,"hi":2.7},
{"b":1,"g":"j","h":11.449,"lo":1.14,"hi":1.55},{"b":1,"g":"j","h":11.486,"lo":0.72,"hi":1.76},{"b":1,"g":"j","h":11.493,"lo":0.67,"hi":1.72},{"b":1,"g":"j","h":11.54,"lo":0.76,"hi":1.2},{"b":1,"g":"j","h":11.585,"lo":0.84,"hi":0.86},
{"b":2,"g":"a","h":9.03,"lo":2.1,"hi":2.95},{"b":2,"g":"a","h":9.05,"lo":1.3,"hi":3.1},{"b":2,"g":"a","h":9.078,"lo":1.2,"hi":3.2},{"b":2,"g":"a","h":9.105,"lo":1.3,"hi":3.05},{"b":2,"g":"a","h":9.13,"lo":2.2,"hi":2.85},
{"b":2,"g":"b","h":9.21,"lo":1.25,"hi":1.6},{"b":2,"g":"b","h":9.245,"lo":1.05,"hi":1.8},{"b":2,"g":"b","h":9.28,"lo":1.3,"hi":1.55},
{"b":2,"g":"c","h":9.3,"lo":2.4,"hi":2.8},{"b":2,"g":"c","h":9.327,"lo":2.25,"hi":2.95},{"b":2,"g":"c","h":9.36,"lo":2.5,"hi":2.75},
{"b":2,"g":"d","h":9.53,"lo":3.7,"hi":4.35},{"b":2,"g":"d","h":9.55,"lo":3.2,"hi":4.45},{"b":2,"g":"d","h":9.575,"lo":2.9,"hi":4.6},{"b":2,"g":"d","h":9.6,"lo":3.2,"hi":4.45},{"b":2,"g":"d","h":9.62,"lo":3.7,"hi":4.3},
{"b":2,"g":"f","h":10.37,"lo":2.0,"hi":2.4},{"b":2,"g":"f","h":10.405,"lo":1.55,"hi":2.5},{"b":2,"g":"f","h":10.435,"lo":2.0,"hi":2.4},
{"b":2,"g":"o","h":10.47,"lo":2.65,"hi":2.7},{"b":2,"g":"o","h":10.49,"lo":2.62,"hi":2.75},{"b":2,"g":"o","h":10.5,"lo":2.65,"hi":2.7},
{"b":2,"g":"n","h":10.905,"lo":1.65,"hi":1.75},{"b":2,"g":"n","h":10.92,"lo":1.65,"hi":1.78},{"b":2,"g":"n","h":10.935,"lo":1.72,"hi":1.74},
{"b":2,"g":"i","h":11.19,"lo":0.8,"hi":2.6},{"b":2,"g":"i","h":11.215,"lo":0.6,"hi":2.95},{"b":2,"g":"i","h":11.238,"lo":0.5,"hi":3.05},{"b":2,"g":"i","h":11.26,"lo":0.6,"hi":2.95},{"b":2,"g":"i","h":11.295,"lo":0.8,"hi":2.6},
{"b":3,"g":"a","h":9.035,"lo":2.4,"hi":2.85},{"b":3,"g":"a","h":9.06,"lo":1.7,"hi":3.0},{"b":3,"g":"a","h":9.078,"lo":1.5,"hi":3.05},{"b":3,"g":"a","h":9.095,"lo":1.7,"hi":2.95},{"b":3,"g":"a","h":9.12,"lo":2.4,"hi":2.75},
{"b":3,"g":"b","h":9.23,"lo":1.35,"hi":1.55},{"b":3,"g":"b","h":9.245,"lo":1.25,"hi":1.65},{"b":3,"g":"b","h":9.26,"lo":1.4,"hi":1.55},
{"b":3,"g":"c","h":9.32,"lo":2.5,"hi":2.7},{"b":3,"g":"c","h":9.335,"lo":2.5,"hi":2.75},{"b":3,"g":"c","h":9.35,"lo":2.6,"hi":2.65},
{"b":3,"g":"d","h":9.545,"lo":3.6,"hi":4.3},{"b":3,"g":"d","h":9.575,"lo":3.25,"hi":4.45},{"b":3,"g":"d","h":9.605,"lo":3.6,"hi":4.3},
{"b":3,"g":"f","h":10.385,"lo":2.1,"hi":2.35},{"b":3,"g":"f","h":10.405,"lo":1.85,"hi":2.4},{"b":3,"g":"f","h":10.425,"lo":2.15,"hi":2.3},
{"b":3,"g":"i","h":11.205,"lo":0.9,"hi":2.55},{"b":3,"g":"i","h":11.238,"lo":0.75,"hi":2.8},{"b":3,"g":"i","h":11.27,"lo":0.9,"hi":2.55},
{"b":4,"g":"a","h":9.045,"lo":2.5,"hi":2.8},{"b":4,"g":"a","h":9.078,"lo":1.85,"hi":2.95},{"b":4,"g":"a","h":9.11,"lo":2.5,"hi":2.7},
{"b":4,"g":"d","h":9.56,"lo":3.8,"hi":4.25},{"b":4,"g":"d","h":9.575,"lo":3.6,"hi":4.3},{"b":4,"g":"d","h":9.59,"lo":3.8,"hi":4.2},
{"b":4,"g":"i","h":11.225,"lo":1.0,"hi":2.5},{"b":4,"g":"i","h":11.238,"lo":0.9,"hi":2.65},{"b":4,"g":"i","h":11.255,"lo":1.0,"hi":2.5},
{"b":5,"g":"a","h":9.055,"lo":2.5,"hi":2.75},{"b":5,"g":"a","h":9.078,"lo":2.2,"hi":2.9},{"b":5,"g":"a","h":9.1,"lo":2.55,"hi":2.65},
{"b":6,"g":"a","h":9.065,"lo":2.55,"hi":2.7},{"b":6,"g":"a","h":9.078,"lo":2.4,"hi":2.8},{"b":6,"g":"a","h":9.09,"lo":2.55,"hi":2.65},
{"b":7,"g":"a","h":9.072,"lo":2.6,"hi":2.68},{"b":7,"g":"a","h":9.078,"lo":2.5,"hi":2.72},{"b":7,"g":"a","h":9.085,"lo":2.6,"hi":2.65}
]},"mark":{"type":"area","orient":"vertical","interpolate":"linear","clip":true},"encoding":{"x":{"field":"h","type":"quantitative","scale":{"domain":[9,13.91],"nice":false,"zero":false},"axis":{"title":null,"values":[9,9.5,10,10.5,11,11.5,12,12.5,13,13.5],"labelExpr":"datum.value%1==0?(datum.value<10?'0':'')+datum.value+':00':''","labelFontSize":18,"labelOverlap":false,"labelFlush":false,"tickSize":3,"labelPadding":2}},"y":{"field":"lo","type":"quantitative","scale":{"domain":[0,6.61],"nice":false},"axis":{"title":["z,","km"],"titleAngle":0,"titleFontSize":18,"titleFontWeight":"normal","titleAlign":"left","titleBaseline":"middle","titleX":-48,"titleY":128,"titleLineHeight":22,"values":[1,2,3,4,5,6],"labelExpr":"datum.value%2==0?datum.value:''","labelFontSize":18,"labelOverlap":false,"tickSize":3,"labelPadding":3}},"y2":{"field":"hi"},"detail":{"field":"g"},"color":{"field":"b","type":"ordinal","legend":null,"scale":{"domain":[1,2,3,4,5,6,7],"range":["#2090F5","#20D8E0","#66FFC4","#A0F89A","#E0D478","#FF8C4A","#FF3416"]}}}},
{"width":13,"height":261,"data":{"values":[{"b":0,"lo":0,"hi":0.25},{"b":1,"lo":0.25,"hi":0.5},{"b":2,"lo":0.5,"hi":0.75},{"b":3,"lo":0.75,"hi":1.0},{"b":4,"lo":1.0,"hi":1.25},{"b":5,"lo":1.25,"hi":1.5},{"b":6,"lo":1.5,"hi":1.75},{"b":7,"lo":1.75,"hi":2.0}]},"mark":"rect","encoding":{"y":{"field":"lo","type":"quantitative","scale":{"domain":[0,2],"nice":false},"axis":{"orient":"right","title":null,"values":[0,0.25,0.5,0.75,1,1.25,1.5,1.75,2],"format":".2f","labelFontSize":12.5,"tickSize":4,"labelPadding":2,"labelOverlap":false,"labelFlush":false}},"y2":{"field":"hi"},"color":{"field":"b","type":"ordinal","legend":null,"scale":{"domain":[0,1,2,3,4,5,6,7],"range":["#FFFFFF","#2090F5","#20D8E0","#66FFC4","#A0F89A","#E0D478","#FF8C4A","#FF3416"]}}}},
{"width":109,"height":261,"view":{"stroke":null},"data":{"values":[]},"mark":"point","encoding":{}},
{"width":481,"height":261,"title":{"text":"VAPOR","anchor":"end","dx":-13,"offset":-30,"fontSize":18,"fontWeight":"normal","color":"#1a1a1a"},"data":{"values":[
{"b":1,"g":"a","h":9.0,"lo":0,"hi":2.29},{"b":1,"g":"a","h":9.04,"lo":0,"hi":3.01},{"b":1,"g":"a","h":9.085,"lo":0,"hi":3.16},{"b":1,"g":"a","h":9.133,"lo":0,"hi":2.88},{"b":1,"g":"a","h":9.167,"lo":0,"hi":2.42},{"b":1,"g":"a","h":9.187,"lo":0,"hi":2.67},{"b":1,"g":"a","h":9.245,"lo":0,"hi":3.01},{"b":1,"g":"a","h":9.323,"lo":0,"hi":3.26},{"b":1,"g":"a","h":9.381,"lo":0,"hi":2.84},{"b":1,"g":"a","h":9.49,"lo":0,"hi":2.33},{"b":1,"g":"a","h":9.575,"lo":0,"hi":3.2},{"b":1,"g":"a","h":9.66,"lo":0,"hi":3.12},{"b":1,"g":"a","h":9.745,"lo":0,"hi":1.72},{"b":1,"g":"a","h":9.908,"lo":0,"hi":1.63},{"b":1,"g":"a","h":9.959,"lo":0,"hi":1.78},{"b":1,"g":"a","h":10.01,"lo":0,"hi":2.37},{"b":1,"g":"a","h":10.078,"lo":0,"hi":2.54},{"b":1,"g":"a","h":10.112,"lo":0,"hi":2.67},{"b":1,"g":"a","h":10.153,"lo":0,"hi":3.05},{"b":1,"g":"a","h":10.255,"lo":0,"hi":2.75},{"b":1,"g":"a","h":10.327,"lo":0,"hi":2.27},{"b":1,"g":"a","h":10.384,"lo":0,"hi":2.75},{"b":1,"g":"a","h":10.493,"lo":0,"hi":3.12},{"b":1,"g":"a","h":10.575,"lo":0,"hi":3.31},{"b":1,"g":"a","h":10.69,"lo":0,"hi":3.08},{"b":1,"g":"a","h":10.714,"lo":0,"hi":2.42},{"b":1,"g":"a","h":10.759,"lo":0,"hi":2.2},{"b":1,"g":"a","h":10.827,"lo":0,"hi":1.55},{"b":1,"g":"a","h":10.867,"lo":0,"hi":2.08},{"b":1,"g":"a","h":10.912,"lo":0,"hi":2.25},{"b":1,"g":"a","h":10.922,"lo":0,"hi":3.03},{"b":1,"g":"a","h":10.997,"lo":0,"hi":3.22},{"b":1,"g":"a","h":11.071,"lo":0,"hi":3.15},{"b":1,"g":"a","h":11.235,"lo":0,"hi":3.33},{"b":1,"g":"a","h":11.32,"lo":0,"hi":3.29},{"b":1,"g":"a","h":11.412,"lo":0,"hi":3.16},{"b":1,"g":"a","h":11.49,"lo":0,"hi":3.22},{"b":1,"g":"a","h":11.602,"lo":0,"hi":3.18},{"b":1,"g":"a","h":11.687,"lo":0,"hi":3.18},{"b":1,"g":"a","h":11.908,"lo":0,"hi":3.18},{"b":1,"g":"a","h":12.078,"lo":0,"hi":3.11},{"b":1,"g":"a","h":12.47,"lo":0,"hi":3.09},{"b":1,"g":"a","h":12.57,"lo":0,"hi":3.12},{"b":1,"g":"a","h":12.98,"lo":0,"hi":3.05},{"b":1,"g":"a","h":13.18,"lo":0,"hi":3.11},{"b":1,"g":"a","h":13.49,"lo":0,"hi":3.16},{"b":1,"g":"a","h":13.73,"lo":0,"hi":3.07},{"b":1,"g":"a","h":13.915,"lo":0,"hi":3.05},
{"b":2,"g":"a","h":9.0,"lo":0,"hi":1.72},{"b":2,"g":"a","h":9.075,"lo":0,"hi":2.29},{"b":2,"g":"a","h":9.109,"lo":0,"hi":1.91},{"b":2,"g":"a","h":9.16,"lo":0,"hi":1.44},{"b":2,"g":"a","h":9.194,"lo":0,"hi":1.65},{"b":2,"g":"a","h":9.245,"lo":0,"hi":2.12},{"b":2,"g":"a","h":9.323,"lo":0,"hi":2.16},{"b":2,"g":"a","h":9.408,"lo":0,"hi":1.31},{"b":2,"g":"a","h":9.49,"lo":0,"hi":1.44},{"b":2,"g":"a","h":9.575,"lo":0,"hi":2.09},{"b":2,"g":"a","h":9.66,"lo":0,"hi":2.08},{"b":2,"g":"a","h":9.738,"lo":0,"hi":1.44},{"b":2,"g":"a","h":9.823,"lo":0,"hi":1.08},{"b":2,"g":"a","h":9.908,"lo":0,"hi":1.19},{"b":2,"g":"a","h":9.993,"lo":0,"hi":1.12},{"b":2,"g":"a","h":10.061,"lo":0,"hi":1.4},{"b":2,"g":"a","h":10.146,"lo":0,"hi":1.95},{"b":2,"g":"a","h":10.241,"lo":0,"hi":2.16},{"b":2,"g":"a","h":10.327,"lo":0,"hi":1.75},{"b":2,"g":"a","h":10.412,"lo":0,"hi":2.26},{"b":2,"g":"a","h":10.486,"lo":0,"hi":1.5},{"b":2,"g":"a","h":10.571,"lo":0,"hi":1.36},{"b":2,"g":"a","h":10.656,"lo":0,"hi":2.05},{"b":2,"g":"a","h":10.741,"lo":0,"hi":1.91},{"b":2,"g":"a","h":10.81,"lo":0,"hi":1.23},{"b":2,"g":"a","h":10.827,"lo":0,"hi":1.14},{"b":2,"g":"a","h":10.901,"lo":0,"hi":2.01},{"b":2,"g":"a","h":10.997,"lo":0,"hi":1.99},{"b":2,"g":"a","h":11.071,"lo":0,"hi":1.16},{"b":2,"g":"a","h":11.133,"lo":0,"hi":1.4},{"b":2,"g":"a","h":11.167,"lo":0,"hi":2.08},{"b":2,"g":"a","h":11.241,"lo":0,"hi":2.35},{"b":2,"g":"a","h":11.337,"lo":0,"hi":2.2},{"b":2,"g":"a","h":11.405,"lo":0,"hi":1.86},{"b":2,"g":"a","h":11.49,"lo":0,"hi":2.25},{"b":2,"g":"a","h":11.578,"lo":0,"hi":2.23},{"b":2,"g":"a","h":11.67,"lo":0,"hi":1.95},{"b":2,"g":"a","h":11.89,"lo":0,"hi":1.89},{"b":2,"g":"a","h":12.23,"lo":0,"hi":1.97},{"b":2,"g":"a","h":12.52,"lo":0,"hi":1.89},{"b":2,"g":"a","h":12.69,"lo":0,"hi":1.95},{"b":2,"g":"a","h":12.93,"lo":0,"hi":1.93},{"b":2,"g":"a","h":13.01,"lo":0,"hi":1.69},{"b":2,"g":"a","h":13.08,"lo":0,"hi":1.47},{"b":2,"g":"a","h":13.25,"lo":0,"hi":1.5},{"b":2,"g":"a","h":13.37,"lo":0,"hi":1.74},{"b":2,"g":"a","h":13.49,"lo":0,"hi":1.82},{"b":2,"g":"a","h":13.66,"lo":0,"hi":1.69},{"b":2,"g":"a","h":13.76,"lo":0,"hi":1.89},{"b":2,"g":"a","h":13.915,"lo":0,"hi":1.91},
{"b":3,"g":"a","h":9.0,"lo":0,"hi":1.23},{"b":3,"g":"a","h":9.075,"lo":0,"hi":1.48},{"b":3,"g":"a","h":9.16,"lo":0,"hi":1.06},{"b":3,"g":"a","h":9.245,"lo":0,"hi":1.58},{"b":3,"g":"a","h":9.323,"lo":0,"hi":0.89},{"b":3,"g":"a","h":9.408,"lo":0,"hi":1.02},{"b":3,"g":"a","h":9.49,"lo":0,"hi":0.99},{"b":3,"g":"a","h":9.575,"lo":0,"hi":1.4},{"b":3,"g":"a","h":9.66,"lo":0,"hi":1.23},{"b":3,"g":"a","h":9.738,"lo":0,"hi":0.81},{"b":3,"g":"a","h":9.823,"lo":0,"hi":0.93},{"b":3,"g":"a","h":9.908,"lo":0,"hi":0.72},{"b":3,"g":"a","h":10.061,"lo":0,"hi":0.89},{"b":3,"g":"a","h":10.153,"lo":0,"hi":1.02},{"b":3,"g":"a","h":10.241,"lo":0,"hi":0.93},{"b":3,"g":"a","h":10.412,"lo":0,"hi":1.42},{"b":3,"g":"a","h":10.571,"lo":0,"hi":0.81},{"b":3,"g":"a","h":10.656,"lo":0,"hi":1.4},{"b":3,"g":"a","h":10.741,"lo":0,"hi":0.76},{"b":3,"g":"a","h":10.81,"lo":0,"hi":0.81},{"b":3,"g":"a","h":10.901,"lo":0,"hi":1.38},{"b":3,"g":"a","h":10.997,"lo":0,"hi":0.99},{"b":3,"g":"a","h":11.071,"lo":0,"hi":0.93},{"b":3,"g":"a","h":11.241,"lo":0,"hi":1.63},{"b":3,"g":"a","h":11.337,"lo":0,"hi":1.06},{"b":3,"g":"a","h":11.49,"lo":0,"hi":1.48},{"b":3,"g":"a","h":11.653,"lo":0,"hi":0.93},{"b":3,"g":"a","h":11.738,"lo":0,"hi":0.89},{"b":3,"g":"a","h":11.84,"lo":0,"hi":0.97},{"b":3,"g":"a","h":11.99,"lo":0,"hi":0.97},{"b":3,"g":"a","h":12.13,"lo":0,"hi":1.02},{"b":3,"g":"a","h":12.42,"lo":0,"hi":0.93},{"b":3,"g":"a","h":12.52,"lo":0,"hi":1.04},{"b":3,"g":"a","h":12.83,"lo":0,"hi":1.21},{"b":3,"g":"a","h":12.91,"lo":0,"hi":0.68},{"b":3,"g":"a","h":13.08,"lo":0,"hi":0.79},{"b":3,"g":"a","h":13.17,"lo":0,"hi":0.65},{"b":3,"g":"a","h":13.39,"lo":0,"hi":0.91},{"b":3,"g":"a","h":13.49,"lo":0,"hi":0.81},{"b":3,"g":"a","h":13.59,"lo":0,"hi":0.4},{"b":3,"g":"a","h":13.82,"lo":0,"hi":0.25},{"b":3,"g":"a","h":13.83,"lo":0,"hi":0.72},{"b":3,"g":"a","h":13.915,"lo":0,"hi":0.42},
{"b":4,"g":"a","h":9.0,"lo":0,"hi":0.93},{"b":4,"g":"a","h":9.075,"lo":0,"hi":0.97},{"b":4,"g":"a","h":9.16,"lo":0,"hi":0.81},{"b":4,"g":"a","h":9.245,"lo":0,"hi":0.97},{"b":4,"g":"a","h":9.323,"lo":0,"hi":0.21},{"b":4,"g":"a","h":9.408,"lo":0,"hi":0.85},{"b":4,"g":"a","h":9.49,"lo":0,"hi":0.59},{"b":4,"g":"a","h":9.575,"lo":0,"hi":0.97},{"b":4,"g":"a","h":9.66,"lo":0,"hi":0.08},{"b":4,"g":"a","h":9.738,"lo":0,"hi":0.72},{"b":4,"g":"a","h":9.823,"lo":0,"hi":0.81},{"b":4,"g":"a","h":9.908,"lo":0,"hi":0.47},{"b":4,"g":"a","h":9.993,"lo":0,"hi":0.64},{"b":4,"g":"a","h":10.153,"lo":0,"hi":0.79},{"b":4,"g":"a","h":10.265,"lo":0,"hi":0.65},{"b":4,"g":"a","h":10.412,"lo":0,"hi":0.81},{"b":4,"g":"a","h":10.493,"lo":0,"hi":0.85},{"b":4,"g":"a","h":10.571,"lo":0,"hi":0.51},{"b":4,"g":"a","h":10.656,"lo":0,"hi":0.76},{"b":4,"g":"a","h":10.69,"lo":0,"hi":0.21},{"b":4,"g":"a","h":10.759,"lo":0,"hi":0.17},{"b":4,"g":"a","h":10.81,"lo":0,"hi":0.47},{"b":4,"g":"a","h":10.901,"lo":0,"hi":0.89},{"b":4,"g":"a","h":10.997,"lo":0,"hi":0.7},{"b":4,"g":"a","h":11.133,"lo":0,"hi":0.72},{"b":4,"g":"a","h":11.241,"lo":0,"hi":1.06},{"b":4,"g":"a","h":11.32,"lo":0,"hi":0.51},{"b":4,"g":"a","h":11.412,"lo":0,"hi":0.55},{"b":4,"g":"a","h":11.49,"lo":0,"hi":0.85},{"b":4,"g":"a","h":11.602,"lo":0,"hi":0.79},{"b":4,"g":"a","h":11.65,"lo":0,"hi":0.65},{"b":4,"g":"a","h":11.82,"lo":0,"hi":0.53},{"b":4,"g":"a","h":11.89,"lo":0,"hi":0.21},{"b":4,"g":"a","h":11.99,"lo":0,"hi":0.23},{"b":4,"g":"a","h":12.1,"lo":0,"hi":0.13},{"b":4,"g":"a","h":12.21,"lo":0,"hi":0.13},{"b":4,"g":"a","h":12.23,"lo":0,"hi":0.47},{"b":4,"g":"a","h":12.5,"lo":0,"hi":0.47},{"b":4,"g":"a","h":12.83,"lo":0,"hi":0.55},{"b":4,"g":"a","h":13.01,"lo":0,"hi":0.25},{"b":4,"g":"a","h":13.28,"lo":0,"hi":0.13},{"b":4,"g":"a","h":13.69,"lo":0,"hi":0.14},{"b":4,"g":"a","h":13.895,"lo":0,"hi":0.02},
{"b":5,"g":"a","h":9.11,"lo":0.21,"hi":0.42},{"b":5,"g":"a","h":9.145,"lo":0.15,"hi":0.55},{"b":5,"g":"a","h":9.2,"lo":0.05,"hi":0.53},{"b":5,"g":"a","h":9.225,"lo":0,"hi":0.3},{"b":5,"g":"a","h":9.3,"lo":0,"hi":0.06},{"b":5,"g":"a","h":9.36,"lo":0,"hi":0.04},{"b":5,"g":"a","h":9.408,"lo":0,"hi":0.57},{"b":5,"g":"a","h":9.49,"lo":0,"hi":0.42},{"b":5,"g":"a","h":9.575,"lo":0,"hi":0.59},{"b":5,"g":"a","h":9.66,"lo":0,"hi":0.06},{"b":5,"g":"a","h":9.738,"lo":0,"hi":0.53},{"b":5,"g":"a","h":9.823,"lo":0,"hi":0.55},{"b":5,"g":"a","h":9.908,"lo":0,"hi":0.28},{"b":5,"g":"a","h":9.993,"lo":0,"hi":0.38},{"b":5,"g":"a","h":10.078,"lo":0,"hi":0.36},{"b":5,"g":"a","h":10.153,"lo":0,"hi":0.53},{"b":5,"g":"a","h":10.265,"lo":0,"hi":0.47},{"b":5,"g":"a","h":10.412,"lo":0,"hi":0.51},{"b":5,"g":"a","h":10.486,"lo":0,"hi":0.48},{"b":5,"g":"a","h":10.571,"lo":0,"hi":0.28},{"b":5,"g":"a","h":10.656,"lo":0,"hi":0.51},{"b":5,"g":"a","h":10.69,"lo":0,"hi":0.17},{"b":5,"g":"a","h":10.759,"lo":0,"hi":0.17},{"b":5,"g":"a","h":10.82,"lo":0,"hi":0.45},{"b":5,"g":"a","h":10.901,"lo":0,"hi":0.47},{"b":5,"g":"a","h":10.997,"lo":0,"hi":0.38},{"b":5,"g":"a","h":11.08,"lo":0,"hi":0.48},{"b":5,"g":"a","h":11.167,"lo":0,"hi":0.45},{"b":5,"g":"a","h":11.241,"lo":0,"hi":0.59},{"b":5,"g":"a","h":11.32,"lo":0,"hi":0.21},{"b":5,"g":"a","h":11.412,"lo":0,"hi":0.11},{"b":5,"g":"a","h":11.49,"lo":0,"hi":0.13},{"b":5,"g":"a","h":11.585,"lo":0,"hi":0.19},{"b":5,"g":"a","h":11.755,"lo":0,"hi":0.13},{"b":5,"g":"a","h":11.874,"lo":0,"hi":0.02},
{"b":5,"g":"b","h":12.6,"lo":0,"hi":0.02},{"b":5,"g":"b","h":12.66,"lo":0,"hi":0.1},{"b":5,"g":"b","h":13.08,"lo":0,"hi":0.06},{"b":5,"g":"b","h":13.115,"lo":0,"hi":0},
{"b":6,"g":"a","h":9.41,"lo":0,"hi":0},{"b":6,"g":"a","h":9.43,"lo":0,"hi":0.03},{"b":6,"g":"a","h":9.5,"lo":0,"hi":0.03},{"b":6,"g":"a","h":9.52,"lo":0,"hi":0},
{"b":6,"g":"b","h":9.78,"lo":0,"hi":0},{"b":6,"g":"b","h":9.82,"lo":0,"hi":0.05},{"b":6,"g":"b","h":9.85,"lo":0,"hi":0.04},{"b":6,"g":"b","h":9.87,"lo":0,"hi":0},
{"b":6,"g":"c","h":10.57,"lo":0,"hi":0},{"b":6,"g":"c","h":10.63,"lo":0,"hi":0.04},{"b":6,"g":"c","h":10.67,"lo":0,"hi":0.05},{"b":6,"g":"c","h":10.69,"lo":0,"hi":0},
{"b":6,"g":"d","h":10.845,"lo":0,"hi":0},{"b":6,"g":"d","h":10.9,"lo":0,"hi":0.21},{"b":6,"g":"d","h":10.95,"lo":0,"hi":0.2},{"b":6,"g":"d","h":11.1,"lo":0,"hi":0.22},{"b":6,"g":"d","h":11.24,"lo":0,"hi":0.21},{"b":6,"g":"d","h":11.25,"lo":0,"hi":0}
]},"mark":{"type":"area","orient":"vertical","interpolate":"linear","clip":true},"encoding":{"x":{"field":"h","type":"quantitative","scale":{"domain":[9,13.91],"nice":false,"zero":false},"axis":{"title":null,"values":[9,9.5,10,10.5,11,11.5,12,12.5,13,13.5],"labelExpr":"datum.value%1==0?(datum.value<10?'0':'')+datum.value+':00':''","labelFontSize":18,"labelOverlap":false,"labelFlush":false,"tickSize":3,"labelPadding":2}},"y":{"field":"lo","type":"quantitative","scale":{"domain":[0,6.61],"nice":false},"axis":{"title":["z,","km"],"titleAngle":0,"titleFontSize":18,"titleFontWeight":"normal","titleAlign":"left","titleBaseline":"middle","titleX":-48,"titleY":128,"titleLineHeight":22,"values":[1,2,3,4,5,6],"labelExpr":"datum.value%2==0?datum.value:''","labelFontSize":18,"labelOverlap":false,"tickSize":3,"labelPadding":3}},"y2":{"field":"hi"},"detail":{"field":"g"},"color":{"field":"b","type":"ordinal","legend":null,"scale":{"domain":[1,2,3,4,5,6],"range":["#189FF3","#38E6D8","#88FFB0","#CCE688","#FF9F50","#FF3A18"]}}}},
{"width":13,"height":261,"data":{"values":[{"b":0,"lo":0,"hi":0.8},{"b":1,"lo":0.8,"hi":1.6},{"b":2,"lo":1.6,"hi":2.4},{"b":3,"lo":2.4,"hi":3.2},{"b":4,"lo":3.2,"hi":4.0},{"b":5,"lo":4.0,"hi":4.8},{"b":6,"lo":4.8,"hi":5.6}]},"mark":"rect","encoding":{"y":{"field":"lo","type":"quantitative","scale":{"domain":[0,5.6],"nice":false},"axis":{"orient":"right","title":null,"values":[0,0.8,1.6,2.4,3.2,4,4.8,5.6],"format":".2f","labelFontSize":12.5,"tickSize":4,"labelPadding":2,"labelOverlap":false,"labelFlush":false}},"y2":{"field":"hi"},"color":{"field":"b","type":"ordinal","legend":null,"scale":{"domain":[0,1,2,3,4,5,6],"range":["#FFFFFF","#189FF3","#38E6D8","#88FFB0","#CCE688","#FF9F50","#FF3A18"]}}}}
]}
